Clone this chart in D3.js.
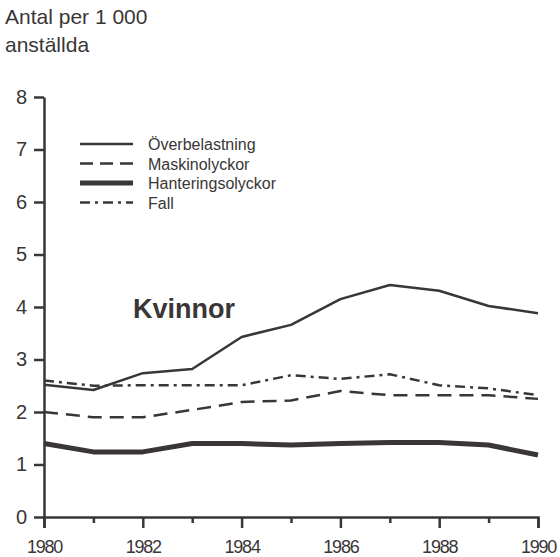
<!DOCTYPE html>
<html>
<head>
<meta charset="utf-8">
<script src="https://cdn.jsdelivr.net/npm/d3@7"></script>
<style>
  body { margin: 0; background: #fff; }
  svg { display: block; }
  text { font-family: "Liberation Sans", Arial, sans-serif; fill: #3a3636; }
</style>
</head>
<body>
<svg id="chart" width="560" height="557"></svg>
<script>
const years = [1980, 1981, 1982, 1983, 1984, 1985, 1986, 1987, 1988, 1989, 1990];
const overbelastning = [2.52, 2.42, 2.74, 2.82, 3.43, 3.66, 4.15, 4.42, 4.31, 4.02, 3.88];
const maskinolyckor = [2.0, 1.9, 1.9, 2.04, 2.19, 2.22, 2.4, 2.32, 2.32, 2.32, 2.25];
const hanteringsolyckor = [1.4, 1.24, 1.24, 1.4, 1.4, 1.37, 1.4, 1.42, 1.42, 1.37, 1.18];
const fall = [2.6, 2.5, 2.51, 2.51, 2.51, 2.7, 2.63, 2.72, 2.51, 2.45, 2.32];
const yTicks = [0, 1, 2, 3, 4, 5, 6, 7, 8];
const xLabels = [1980, 1982, 1984, 1986, 1988, 1990];

const ink = "#3a3636";
const svg = d3.select("#chart");

const x = d3.scaleLinear().domain([1980, 1990]).range([44, 538]);
const y = d3.scaleLinear().domain([0, 8]).range([517, 97]);

// titel
svg.append("text").attr("x", 5).attr("y", 24).attr("font-size", 21).text("Antal per 1 000");
svg.append("text").attr("x", 5).attr("y", 52).attr("font-size", 21).text("anställda");

// y-axel
const yAxis = svg.append("g")
    .attr("transform", `translate(${x(1980)},0)`)
    .call(d3.axisLeft(y).tickValues(yTicks).tickSize(10).tickSizeOuter(0).tickPadding(7));
yAxis.select(".domain").attr("stroke", ink).attr("stroke-width", 2.5);
yAxis.selectAll(".tick line").attr("stroke", ink).attr("stroke-width", 2.5);
yAxis.selectAll(".tick text").attr("font-size", 20).attr("fill", ink)
    .attr("font-family", "Liberation Sans, Arial, sans-serif");

// x-axel
const xAxis = svg.append("g")
    .attr("transform", `translate(0,${y(0)})`)
    .call(d3.axisBottom(x).tickValues(years).tickSizeOuter(0).tickSize(11)
        .tickFormat(d => xLabels.includes(d) ? d : ""));
xAxis.select(".domain").attr("stroke", ink).attr("stroke-width", 2.5);
xAxis.selectAll(".tick line").attr("stroke", ink).attr("stroke-width", 2.5)
    .attr("y2", d => d % 2 === 0 ? 11 : 6);
xAxis.selectAll(".tick text").attr("font-size", 18).attr("fill", ink)
    .attr("font-family", "Liberation Sans, Arial, sans-serif")
    .attr("y", 36).attr("dy", 0).attr("letter-spacing", "-1.2");

// linjer
const series = [
    { name: "Överbelastning", values: overbelastning, width: 2.5, dash: null },
    { name: "Maskinolyckor", values: maskinolyckor, width: 2.5, dash: "14,8" },
    { name: "Hanteringsolyckor", values: hanteringsolyckor, width: 5, dash: null },
    { name: "Fall", values: fall, width: 2.5, dash: "10,5,3,5" }
];

const line = d3.line()
    .x((d, i) => x(years[i]))
    .y(d => y(d));

svg.selectAll(".serie")
    .data(series)
    .enter()
    .append("path")
    .attr("class", "serie")
    .attr("d", d => line(d.values))
    .attr("fill", "none")
    .attr("stroke", ink)
    .attr("stroke-width", d => d.width)
    .attr("stroke-dasharray", d => d.dash)
    .attr("stroke-linejoin", "round");

// legend
const legend = svg.append("g").attr("transform", "translate(80,144)");
series.forEach((s, i) => {
    const g = legend.append("g").attr("transform", `translate(0,${i * 19.5})`);
    g.append("line")
        .attr("x1", 0).attr("x2", 53).attr("y1", 0).attr("y2", 0)
        .attr("stroke", ink)
        .attr("stroke-width", s.width)
        .attr("stroke-dasharray", s.dash === "14,8" ? "13,7" : s.dash);
    g.append("text")
        .attr("x", 68).attr("y", 6)
        .attr("font-size", 16)
        .text(s.name);
});

svg.append("text")
    .attr("x", 133).attr("y", 318)
    .attr("font-size", 27)
    .attr("font-weight", "bold")
    .text("Kvinnor");
</script>
</body>
</html>
